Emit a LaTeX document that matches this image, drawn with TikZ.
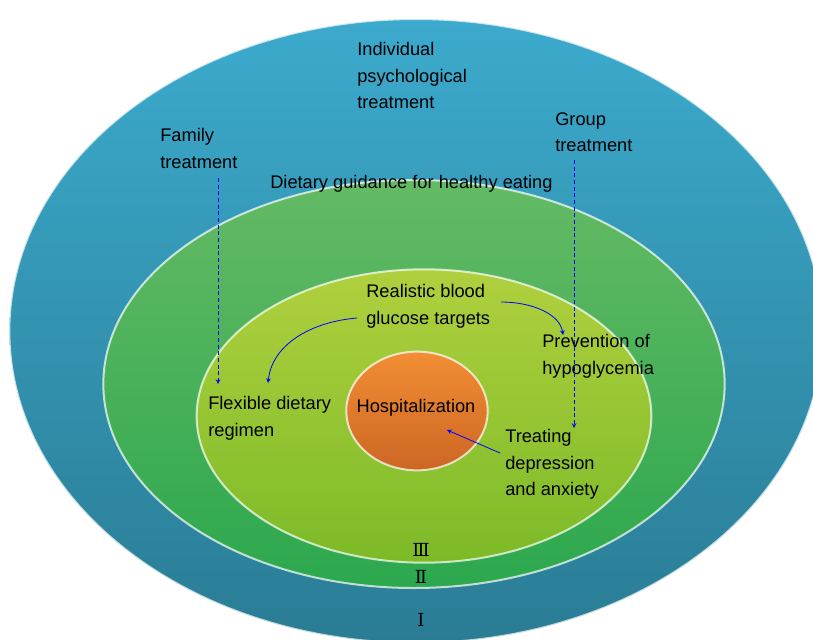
\documentclass[tikz,border=0pt]{standalone}
\usepackage{fontspec}
\setmainfont{Liberation Sans}
\newfontfamily\romfont{DejaVu Serif}
\usetikzlibrary{shapes.geometric,positioning}
\definecolor{blueTop}{RGB}{60,170,205}
\definecolor{blueBot}{RGB}{42,124,148}
\definecolor{greenTop}{RGB}{100,186,100}
\definecolor{greenBot}{RGB}{44,168,78}
\definecolor{limeTop}{RGB}{176,208,62}
\definecolor{limeBot}{RGB}{124,186,40}
\definecolor{orangeTop}{RGB}{242,142,52}
\definecolor{orangeBot}{RGB}{204,102,36}

\begin{document}
\begin{tikzpicture}[x=0.75pt, y=-0.75pt, >=stealth,
  ring/.style={ellipse, draw=white, draw opacity=0.7, line width=1.5pt, inner sep=0pt},
  lbl/.style={font=\fontsize{13.7}{20}\selectfont, align=left, inner sep=0pt, anchor=north west},
  roman/.style={font=\romfont\fontsize{13.5}{16}\selectfont, inner sep=0pt},
  link/.style={->, blue, line width=0.6pt},
  hint/.style={->, blue, densely dashed, line width=0.6pt}]

  \useasboundingbox (0,0) rectangle (813,639);
  \clip (0,0) rectangle (813,639);

  % the rings
  \node[ring, minimum width=610pt, minimum height=468pt, top color=blueTop, bottom color=blueBot] (ringI) at (416,331) {};
  \node[ring, minimum width=466pt, minimum height=306pt, top color=greenTop, bottom color=greenBot] (ringII) at (414,384) {};
  \node[ring, minimum width=341pt, minimum height=220pt, top color=limeTop, bottom color=limeBot] (ringIII) at (424,416) {};
  \node[ring, minimum width=106pt, minimum height=89pt, top color=orangeTop, bottom color=orangeBot] (hosp) at (417,411) {};
  \node[lbl, anchor=center] (hospText) at (416,408) {Hospitalization};

  % texts
  \node[lbl] (indiv) at (357,42) {Individual\\psychological\\treatment};
  \node[lbl] (family) at (160,128) {Family\\treatment};
  \node[lbl] (group) at (555,112) {Group\\treatment};
  \node[lbl] (diet) at (270,175) {Dietary guidance for healthy eating};
  \node[lbl] (target) at (366,284) {Realistic blood\\glucose targets};
  \node[lbl] (hypo) at (542,334) {Prevention of\\hypoglycemia};
  \node[lbl] (flex) at (208,396) {Flexible dietary\\regimen};
  \node[lbl] (mood) at (505,429) {Treating\\depression\\and anxiety};

  \node[roman] (numIII) at (421,550) {Ⅲ};
  \node[roman] (numII) at (421,577) {Ⅱ};
  \node[roman] (numI) at (421,620) {Ⅰ};

  % connectors
  \coordinate (famS) at (218,178);
  \coordinate (famE) at (218,384);
  \coordinate (grpS) at (574,160);
  \coordinate (grpE) at (574,428);
  \coordinate (tgtL) at (357,318);
  \coordinate (flexE) at (268,383);
  \coordinate (tgtR) at (501,302);
  \coordinate (hypoE) at (563,335);
  \coordinate (moodS) at (500,453);
  \coordinate (hospE) at (447,430);

  \draw[hint] (famS) -- (famE);
  \draw[hint] (grpS) -- (grpE);
  \draw[link] (tgtL) .. controls (310,322) and (272,345) .. (flexE);
  \draw[link] (tgtR) .. controls (532,302) and (560,314) .. (hypoE);
  \draw[link] (moodS) -- (hospE);
\end{tikzpicture}
\end{document}
